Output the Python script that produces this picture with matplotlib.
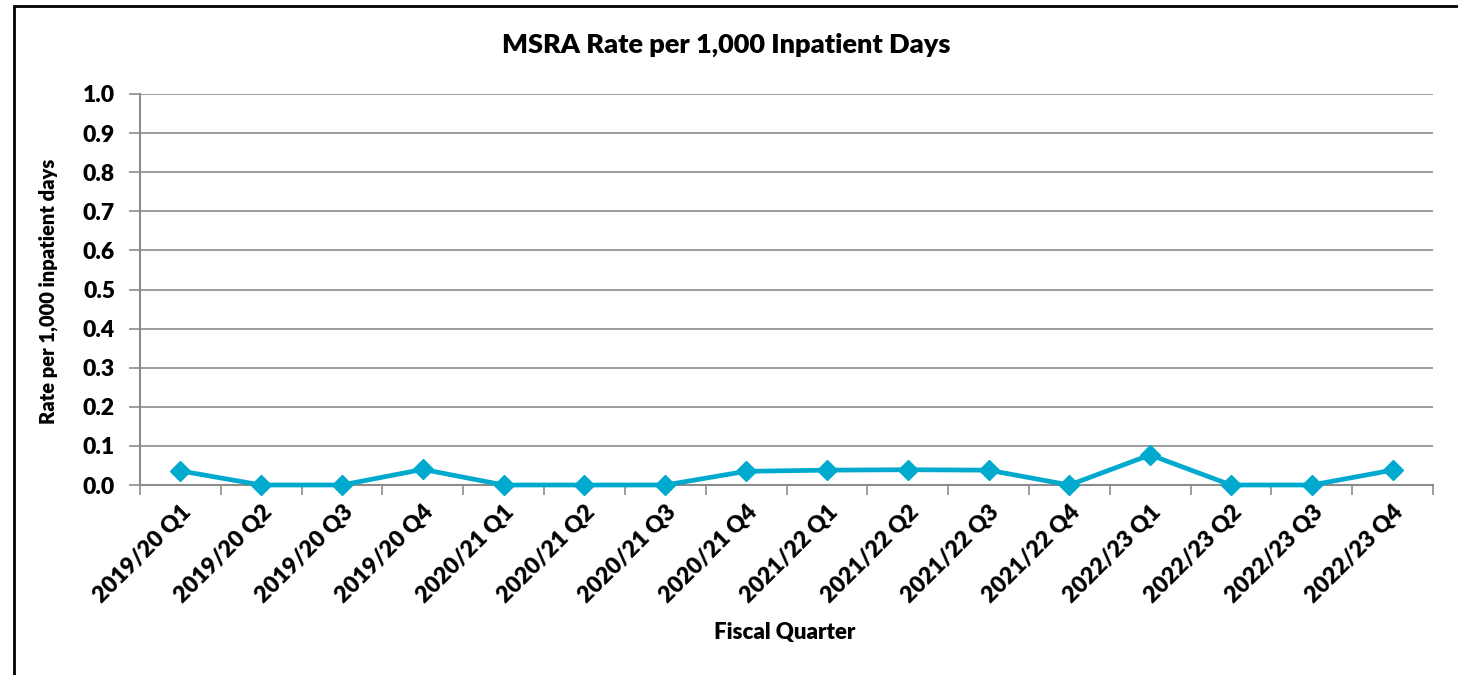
import matplotlib.pyplot as plt
import matplotlib.patches as patches
import numpy as np

# chart data
quarters = ['2019/20 Q1', '2019/20 Q2', '2019/20 Q3', '2019/20 Q4',
            '2020/21 Q1', '2020/21 Q2', '2020/21 Q3', '2020/21 Q4',
            '2021/22 Q1', '2021/22 Q2', '2021/22 Q3', '2021/22 Q4',
            '2022/23 Q1', '2022/23 Q2', '2022/23 Q3', '2022/23 Q4']
rates = [0.036, 0.0, 0.0, 0.040, 0.0, 0.0, 0.0, 0.035,
         0.038, 0.039, 0.038, 0.0, 0.077, 0.0, 0.0, 0.038]
y_ticks = [0.0, 0.1, 0.2, 0.3, 0.4, 0.5, 0.6, 0.7, 0.8, 0.9, 1.0]

plt.rcParams['font.family'] = ['Lato', 'DejaVu Sans']
plt.rcParams['font.weight'] = 'heavy'
weight = 'heavy'

fig = plt.figure(figsize=(14.58, 6.75), dpi=100)
ax = fig.add_axes([140 / 1458, 1 - 485 / 675, (1433 - 140) / 1458, (485 - 94) / 675])

# outer chart border (runs off right and bottom edges)
fig.patches.append(patches.Rectangle((14 / 1458, -0.1), 1.2, 1 - 6 / 675 + 0.1,
                                     transform=fig.transFigure, fill=False,
                                     edgecolor='black', linewidth=2))

x = np.arange(len(quarters))
line_color = '#00A9CE'
ax.plot(x, rates, color=line_color, linewidth=3.4, marker='D',
        markersize=10.5, zorder=3, clip_on=False)

ax.set_xlim(-0.5, len(quarters) - 0.5)
ax.set_ylim(0, 1.0)
ax.set_yticks(y_ticks)
ax.set_yticklabels([f'{v:.1f}' for v in y_ticks], fontsize=16.5, fontweight=weight)
ax.grid(axis='y', color='#8c8c8c', linewidth=1.2)
ax.set_axisbelow(True)

ax.set_xticks(x)
ax.set_xticklabels(quarters, rotation=45, ha='right', rotation_mode='anchor',
                   fontsize=16.5, fontweight=weight)
ax.set_xticks(np.arange(-0.5, len(quarters)), minor=True)
ax.tick_params(axis='x', which='major', length=0, pad=12)
ax.tick_params(axis='x', which='minor', length=7, color='#8c8c8c', width=1.2)
ax.tick_params(axis='y', length=8, color='#8c8c8c', width=1.2, pad=10)

for s in ['top', 'right']:
    ax.spines[s].set_visible(False)
for s in ['left', 'bottom']:
    ax.spines[s].set_color('#8c8c8c')
    ax.spines[s].set_linewidth(1.5)

fig.text(726 / 1458, 1 - 45 / 675, 'MSRA Rate per 1,000 Inpatient Days',
         ha='center', va='center', fontsize=19.5, fontweight=weight)
fig.text(785 / 1458, 1 - 633 / 675, 'Fiscal Quarter',
         ha='center', va='center', fontsize=16, fontweight=weight)
fig.text(48 / 1458, 1 - 291 / 675, 'Rate per 1,000 inpatient days', rotation=90,
         ha='center', va='center', fontsize=14.5, fontweight=weight)

fig.savefig('out.png', dpi=100)
